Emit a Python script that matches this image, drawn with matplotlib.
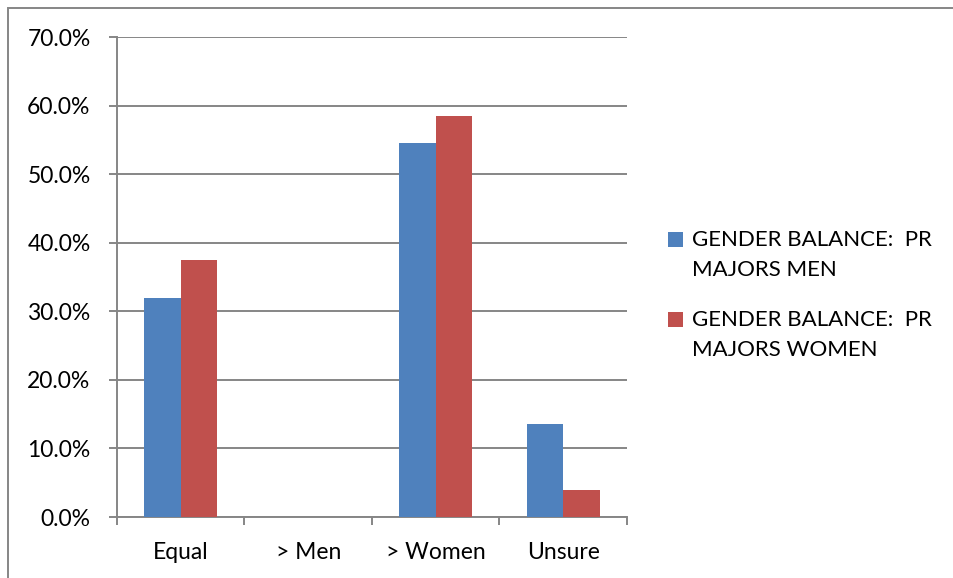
import matplotlib.pyplot as plt
import numpy as np
from matplotlib.patches import Rectangle

categories = ["Equal", "> Men", "> Women", "Unsure"]
men = [32.0, 0.0, 54.5, 13.5]
women = [37.5, 0.0, 58.5, 4.0]
series_names = ["GENDER BALANCE:  PR\nMAJORS MEN", "GENDER BALANCE:  PR\nMAJORS WOMEN"]
y_ticks = [0, 10, 20, 30, 40, 50, 60, 70]

plt.rcParams['font.family'] = ['Lato', 'DejaVu Sans']
grid_c = "#868686"

fig = plt.figure(figsize=(9.54, 5.78), dpi=100)
ax = fig.add_axes([117 / 954, 61 / 578, 510 / 954, 480 / 578])

x = np.arange(len(categories))
w = 1 / 3.5
b1 = ax.bar(x - w / 2, men, w, color="#4F81BD", zorder=3)
b2 = ax.bar(x + w / 2, women, w, color="#C0504D", zorder=3)

ax.set_xlim(-0.5, len(categories) - 0.5)
ax.set_ylim(0, 70)
ax.set_yticks(y_ticks)
ax.set_yticklabels([f"{v:.1f}%" for v in y_ticks], fontsize=16.5)
ax.yaxis.grid(True, color=grid_c, linewidth=1.4, zorder=0)
ax.set_xticks(x)
ax.set_xticklabels(categories, fontsize=16.5)
ax.set_xticks(np.arange(-0.5, len(categories)), minor=True)
ax.tick_params(axis="x", which="major", length=0, pad=18)
ax.tick_params(axis="x", which="minor", length=6, color=grid_c, width=1.4)
ax.tick_params(axis="y", length=6, color=grid_c, width=1.4, pad=13)

for s in ["top", "right"]:
    ax.spines[s].set_visible(False)
for s in ["left", "bottom"]:
    ax.spines[s].set_color(grid_c)
    ax.spines[s].set_linewidth(1.4)

# legend drawn by hand: square beside the first line of each wrapped label
for i, (bars, name) in enumerate(zip([b1, b2], series_names)):
    y_top = (578 - 232 - i * 80) / 578
    fig.add_artist(Rectangle((668 / 954, y_top - 15 / 578), 15 / 954, 15 / 578,
                             transform=fig.transFigure,
                             facecolor=bars.patches[0].get_facecolor(), edgecolor="none"))
    fig.text(692 / 954, (578 - 230 - i * 80) / 578, name, fontsize=16,
             va="top", ha="left", linespacing=1.6)

# chart area border (only top and left visible in the crop)
fig.add_artist(Rectangle((8 / 954, -0.1), 1.2, (578 - 8) / 578 + 0.1,
                         transform=fig.transFigure, fill=False,
                         edgecolor=grid_c, linewidth=1.4))

fig.savefig("out.png", dpi=100)
